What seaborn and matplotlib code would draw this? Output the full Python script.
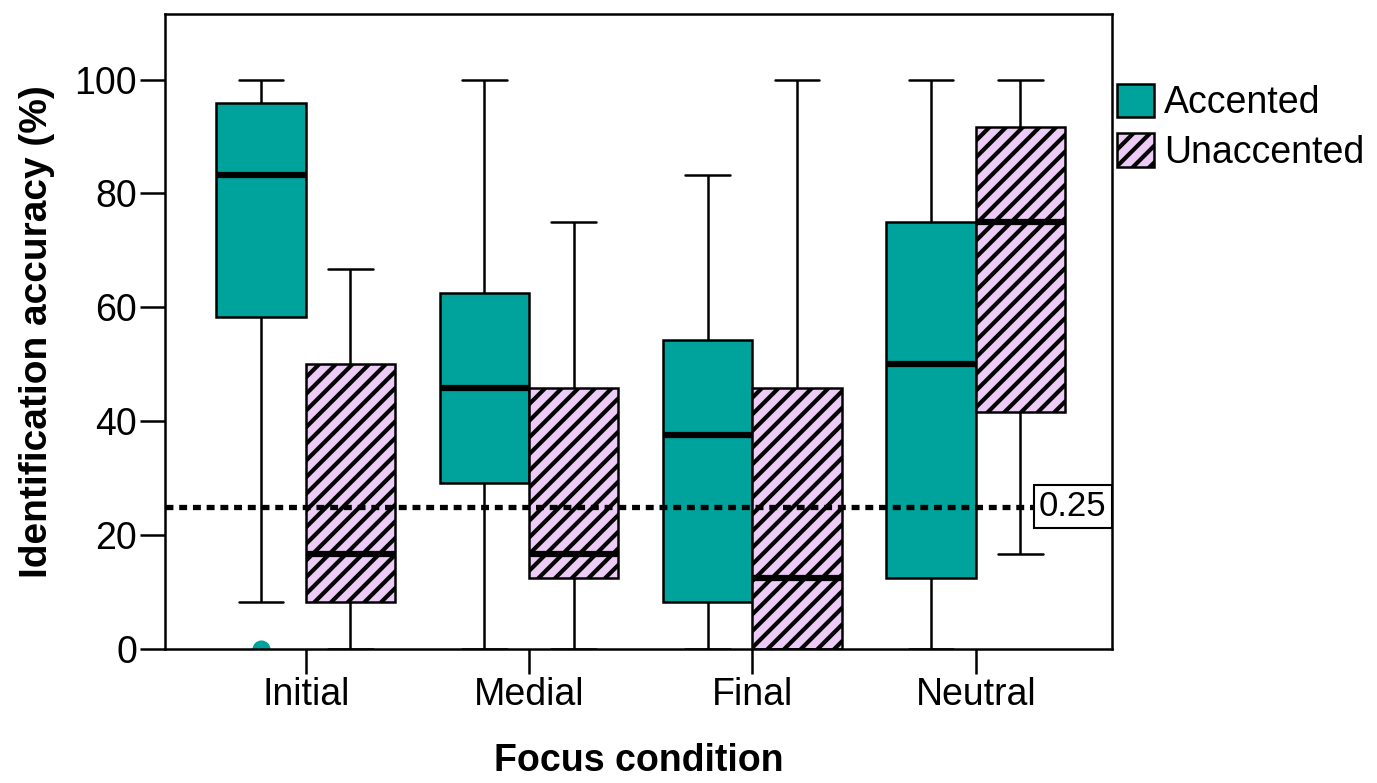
import numpy as np
import pandas as pd
import matplotlib
matplotlib.use('Agg')
import matplotlib.pyplot as plt
import matplotlib.transforms as mtransforms
from matplotlib.patches import Patch
import seaborn as sns

conditions = ['Initial', 'Medial', 'Final', 'Neutral']
accent_levels = ['Accented', 'Unaccented']

# five-number summaries (min, q1, median, q3, max)
acc_min = [8.3, 0, 0, 0]
acc_q1 = [58.3, 29.2, 8.3, 12.5]
acc_med = [83.3, 45.8, 37.5, 50]
acc_q3 = [95.8, 62.5, 54.2, 75]
acc_max = [100, 100, 83.3, 100]

una_min = [0, 0, 0, 16.7]
una_q1 = [8.3, 12.5, 0, 41.7]
una_med = [16.7, 16.7, 12.5, 75]
una_q3 = [50, 45.8, 45.8, 91.7]
una_max = [66.7, 75, 100, 100]

# outlier (Initial, Accented)
outlier_cond = 'Initial'
outlier_val = 0

chance = 25
chance_label = '0.25'

teal = '#00A39C'
pink = '#EDCBF7'

rows = []
for i, c in enumerate(conditions):
    for v in [acc_min[i], acc_q1[i], acc_med[i], acc_q3[i], acc_max[i]]:
        rows.append({'condition': c, 'accent': 'Accented', 'accuracy': v})
    for v in [una_min[i], una_q1[i], una_med[i], una_q3[i], una_max[i]]:
        rows.append({'condition': c, 'accent': 'Unaccented', 'accuracy': v})
df = pd.DataFrame(rows)

sns.set_style('ticks')
plt.rcParams['font.family'] = ['Liberation Sans', 'DejaVu Sans']
plt.rcParams['hatch.linewidth'] = 3.0
plt.rcParams['hatch.color'] = 'black'
plt.rcParams['text.color'] = 'black'
plt.rcParams['axes.labelcolor'] = 'black'
plt.rcParams['xtick.color'] = 'black'
plt.rcParams['ytick.color'] = 'black'

fig = plt.figure(figsize=(13.77, 7.83), dpi=100)
ax = fig.add_axes([0.1198, 0.1711, 0.6878, 0.811])

sns.boxplot(data=df, x='condition', y='accuracy', hue='accent',
            order=conditions, hue_order=accent_levels,
            palette=[teal, pink], saturation=1, width=0.8, gap=0,
            whis=(0, 100), linecolor='black', linewidth=1.8,
            medianprops=dict(linewidth=4.5), fliersize=0,
            legend=False, ax=ax)

# hatch the unaccented boxes
pink_rgba = matplotlib.colors.to_rgba(pink)
for p in ax.patches:
    fc = p.get_facecolor()
    if abs(fc[0] - pink_rgba[0]) < 0.02 and abs(fc[1] - pink_rgba[1]) < 0.02:
        p.set_hatch('//')

# outlier point
ax.plot([conditions.index(outlier_cond) - 0.2], [outlier_val], 'o', color=teal,
        markersize=12, clip_on=True, zorder=1)

# chance reference line
ax.axhline(chance, xmin=0, xmax=0.919, color='black', lw=3.8,
           linestyle=(0, (1.5, 1.1)), zorder=6)
trans = mtransforms.blended_transform_factory(ax.transAxes, ax.transData)
ax.text(0.994, chance, chance_label, transform=trans, ha='right', va='center',
        fontsize=25, zorder=7,
        bbox=dict(boxstyle='square,pad=0.15', fc='white', ec='black', lw=1.5))

ax.set_xlim(-0.63, 3.61)
ax.set_ylim(0, 111.5)
ax.set_yticks([0, 20, 40, 60, 80, 100])
for s in ax.spines.values():
    s.set_visible(True)
    s.set_linewidth(1.8)
    s.set_color('black')
ax.tick_params(length=18, width=1.8, labelsize=27, pad=2, color='black', labelcolor='black')
ax.set_xlabel('Focus condition', fontsize=27, fontweight='bold', labelpad=22)
ax.set_ylabel('Identification accuracy (%)', fontsize=28, fontweight='bold', labelpad=14)

handles = [Patch(facecolor=teal, edgecolor='black', lw=1.8),
           Patch(facecolor=pink, edgecolor='black', lw=1.8, hatch='//')]
ax.legend(handles, accent_levels, loc='upper left', bbox_to_anchor=(1.005, 0.89),
          frameon=False, fontsize=27, handlelength=1.0, handleheight=1.0,
          handletextpad=0.25, labelspacing=0.32, borderpad=0, borderaxespad=0)

fig.savefig('out.png', dpi=100)
